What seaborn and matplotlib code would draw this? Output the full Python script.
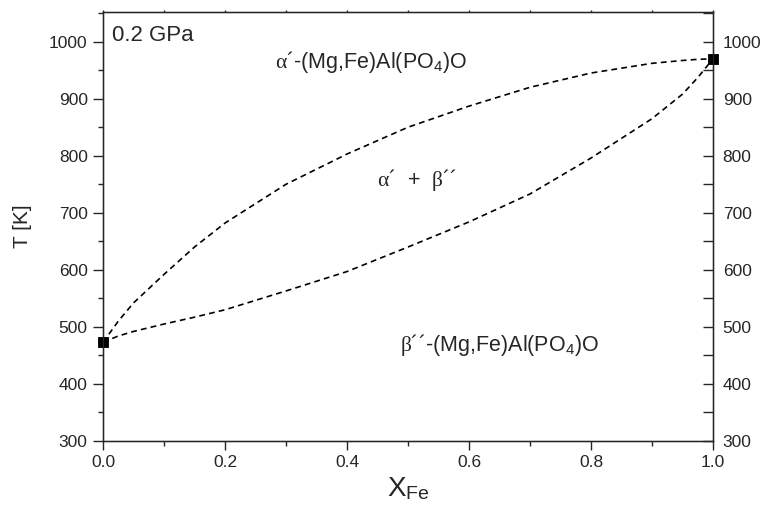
import matplotlib
matplotlib.use("Agg")
import matplotlib.pyplot as plt
import numpy as np
import pandas as pd
import seaborn as sns
from matplotlib.ticker import MultipleLocator, FormatStrFormatter

# phase boundaries (0.2 GPa)
x_fe = [0.0, 0.025, 0.05, 0.1, 0.15, 0.2, 0.3, 0.4, 0.5, 0.6, 0.7, 0.8,
        0.9, 0.95, 0.975, 1.0]
t_upper = [473, 510, 542, 592, 640, 682, 750, 803, 850, 887, 920, 945,
           962, 967, 969, 970]
t_lower = [473, 484, 492, 505, 517, 530, 563, 597, 640, 684, 733, 796,
           865, 908, 937, 970]

# end members (transition temperatures)
end_x = [0.0, 1.0]
end_t = [473, 970]

sns.set_style("ticks")
plt.rcParams["font.family"] = ["Liberation Sans", "DejaVu Sans"]
plt.rcParams["mathtext.fontset"] = "custom"
plt.rcParams["mathtext.rm"] = "Liberation Serif"
plt.rcParams["mathtext.it"] = "Liberation Serif:italic"
plt.rcParams["mathtext.sf"] = "Liberation Sans"

df = pd.DataFrame({"x": x_fe, "upper": t_upper, "lower": t_lower})

fig = plt.figure(figsize=(7.63, 5.21), dpi=100)
ax = fig.add_axes([0.135, 0.1536, 0.7995, 0.8234])

dash = (0, (3.5, 2.5))
sns.lineplot(data=df, x="x", y="upper", ax=ax, color="black", lw=1.2,
             linestyle=dash, sort=False)
sns.lineplot(data=df, x="x", y="lower", ax=ax, color="black", lw=1.2,
             linestyle=dash, sort=False)
sns.scatterplot(x=end_x, y=end_t, ax=ax, marker="s", s=60, color="black",
                edgecolor="black", clip_on=False, zorder=5)

ax.set_xlim(0, 1)
ax.set_ylim(300, 1052)
ax.xaxis.set_major_locator(MultipleLocator(0.2))
ax.xaxis.set_minor_locator(MultipleLocator(0.1))
ax.yaxis.set_major_locator(MultipleLocator(100))
ax.yaxis.set_minor_locator(MultipleLocator(50))
ax.xaxis.set_major_formatter(FormatStrFormatter("%.1f"))

for s in ax.spines.values():
    s.set_linewidth(1.0)
    s.set_visible(True)

ax.tick_params(axis="both", which="major", labelsize=12.5, width=1.0,
               direction="out", top=False, right=False)
ax.tick_params(axis="y", which="major", length=7, pad=4)
ax.tick_params(axis="x", which="major", length=6.5)
ax.tick_params(axis="both", which="minor", length=3.5, width=1.0,
               direction="out", top=False, right=False)

# right axis: inward ticks with labels
axr = ax.twinx()
axr.set_ylim(ax.get_ylim())
axr.yaxis.set_major_locator(MultipleLocator(100))
axr.yaxis.set_minor_locator(MultipleLocator(50))
axr.set_yticks(list(range(300, 1001, 100)))
axr.tick_params(axis="y", which="both", direction="in", length=7, width=1.0,
                labelsize=12.5, pad=7)
axr.set_ylabel("")

# top axis: tiny ticks, no labels
axt = ax.twiny()
axt.set_xlim(ax.get_xlim())
axt.xaxis.set_major_locator(MultipleLocator(0.2))
axt.xaxis.set_minor_locator(MultipleLocator(0.1))
axt.tick_params(axis="x", which="both", direction="out", length=1.5,
                width=1.0, labeltop=False)

ax.set_xlabel("X$_{\\mathsf{Fe}}$", fontsize=20, labelpad=4)
ax.set_ylabel("T [K]", fontsize=15, labelpad=12)

ax.text(0.014, 1010, "0.2 GPa", fontsize=16, va="center", ha="left")
ax.text(0.44, 965, "$\\mathrm{\\alpha}$´-(Mg,Fe)Al(PO$_\\mathsf{4}$)O",
        fontsize=15.5, va="center", ha="center")
ax.text(0.515, 758, "$\\mathrm{\\alpha}$´  +  $\\mathrm{\\beta}$´´",
        fontsize=15.5, va="center", ha="center")
ax.text(0.65, 468, "$\\mathrm{\\beta}$´´-(Mg,Fe)Al(PO$_\\mathsf{4}$)O",
        fontsize=15.5, va="center", ha="center")

fig.savefig("out.png", dpi=100)
